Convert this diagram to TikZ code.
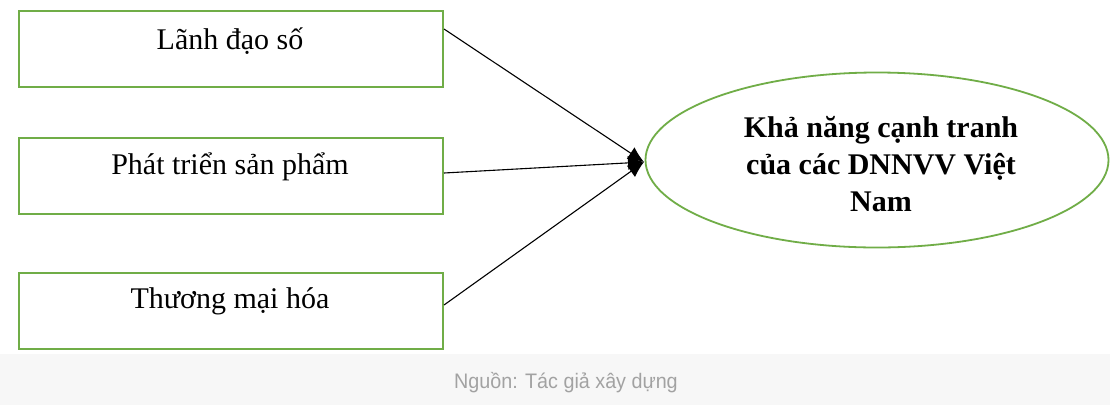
\documentclass[tikz,border=0pt]{standalone}
\usepackage{fontspec}
\setmainfont{Liberation Serif}
\newfontfamily\capfont[FakeStretch=0.94]{Liberation Sans}
\usetikzlibrary{arrows.meta,shapes.geometric}
\definecolor{boxgreen}{HTML}{70AD47}
\definecolor{bandgray}{HTML}{F7F7F7}
\definecolor{capgray}{HTML}{A2A2A2}

\begin{document}
\begin{tikzpicture}[x=1pt,y=-1pt,
  factor/.style={draw=boxgreen, line width=2pt, minimum width=424pt, minimum height=76pt, inner sep=0pt},
  factortext/.style={font=\fontsize{30}{35}\selectfont, inner sep=0pt},
  target/.style={ellipse, draw=boxgreen, line width=1.8pt, minimum width=463pt, minimum height=175pt, inner sep=0pt},
  targettext/.style={font=\fontsize{30}{37}\selectfont\bfseries, align=center, inner sep=0pt},
  conn/.style={draw=black, line width=1.1pt, -{Latex[length=16pt,width=14pt]}}]

  % canvas and caption band
  \useasboundingbox (0,0) rectangle (1110,405);
  \fill[white] (0,0) rectangle (1110,405);
  \fill[bandgray] (0,354) rectangle (1110,405);
  \node[font=\capfont\fontsize{21}{25}\selectfont, text=capgray] (src) at (566,383) {Nguồn: Tác giả xây dựng};

  % factor boxes
  \node[factor] (f1) at (231,49) {};
  \node[factortext] (t1) at (230,41) {Lãnh đạo số};
  \node[factor] (f2) at (231,176) {};
  \node[factortext] (t2) at (230,167) {Phát triển sản phẩm};
  \node[factor] (f3) at (231,311) {};
  \node[factortext] (t3) at (230,301) {Thương mại hóa};

  % outcome
  \node[target] (k) at (877,160) {};
  \node[targettext] (kt) at (881,164) {Khả năng cạnh tranh\\của các DNNVV Việt\\Nam};

  % connectors meeting at the ellipse
  \coordinate (tip) at (644,162);
  \draw[conn] ([yshift=-19pt]f1.north east) -- (tip);
  \draw[conn] ([yshift=3pt]f2.east) -- (tip);
  \draw[conn] ([yshift=6pt]f3.east) -- (tip);
\end{tikzpicture}
\end{document}
